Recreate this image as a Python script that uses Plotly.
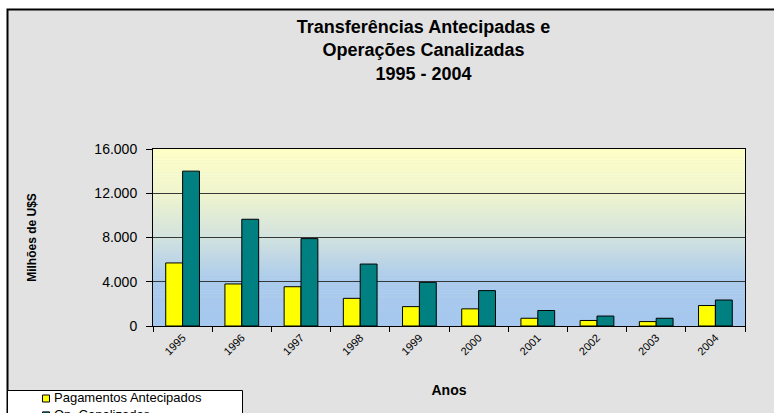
import plotly.graph_objects as go

# ---- data ----
anos = ["1995", "1996", "1997", "1998", "1999", "2000", "2001", "2002", "2003", "2004"]
pagamentos_antecipados = [5700, 3800, 3550, 2500, 1750, 1550, 700, 500, 400, 1850]
op_canalizadas = [14000, 9650, 7900, 5600, 3950, 3200, 1400, 900, 700, 2350]
series_names = ["Pagamentos Antecipados", "Op. Canalizadas"]
series_colors = ["#ffff00", "#008080"]
y_ticks = [0, 4000, 8000, 12000, 16000]

W, H = 774, 413
L, R, T, B = 153, 29, 149, 87
PW, PH = W - L - R, H - T - B


def px_x(p):
    return (p - L) / PW


def px_y(p):
    return (H - B - p) / PH


fig = go.Figure()
for name, vals, c in zip(series_names, [pagamentos_antecipados, op_canalizadas], series_colors):
    fig.add_trace(go.Bar(x=anos, y=vals, name=name,
                         marker=dict(color=c, line=dict(color="#000000", width=1))))

shapes = []
annotations = []
# outer chart area (grey with black border)
shapes.append(dict(type="rect", xref="paper", yref="paper", layer="below",
                   x0=px_x(7.5), x1=px_x(790), y0=px_y(430), y1=px_y(9.5),
                   fillcolor="#e2e2e2", line=dict(color="#000000", width=2)))

# gradient plot background
stops = [(0.0, (255, 255, 198)), (0.25, (240, 245, 206)), (0.5, (210, 226, 222)),
         (0.75, (170, 202, 236)), (1.0, (166, 200, 238))]


def col(f):
    for i in range(len(stops) - 1):
        a, ca = stops[i]
        b, cb = stops[i + 1]
        if a <= f <= b:
            t = (f - a) / (b - a)
            return "rgb(%d,%d,%d)" % tuple(round(ca[k] + (cb[k] - ca[k]) * t) for k in range(3))
    return "rgb(%d,%d,%d)" % stops[-1][1]


N = 60
for i in range(N):
    f = (i + 0.5) / N
    shapes.append(dict(type="rect", xref="x domain", yref="y domain", layer="below",
                       x0=0, x1=1, y0=1 - (i + 1) / N, y1=1 - i / N + 0.002,
                       fillcolor=col(f), line=dict(width=0)))

# legend box (drawn as shapes + text, like the original)
LEG_FONT = 13
line_h = LEG_FONT * 1.3
first_y = 398.5
shapes.append(dict(type="rect", xref="paper", yref="paper", layer="above",
                   x0=px_x(7.5), x1=px_x(242.5), y0=px_y(440), y1=px_y(390.5),
                   fillcolor="#ffffff", line=dict(color="#000000", width=1)))
for k, c in enumerate(series_colors):
    yc = first_y + line_h * k
    shapes.append(dict(type="rect", xref="paper", yref="paper", layer="above",
                       x0=px_x(42.5), x1=px_x(49.5), y0=px_y(yc + 3.5), y1=px_y(yc - 3.5),
                       fillcolor=c, line=dict(color="#000000", width=1)))
annotations.append(dict(text="<br>".join(series_names), xref="paper", yref="paper",
                        x=px_x(53), y=px_y(first_y - line_h / 2 - 1),
                        xanchor="left", yanchor="top", align="left", showarrow=False,
                        borderpad=0, font=dict(size=LEG_FONT, color="#000000")))

fig.update_layout(
    width=W, height=H, autosize=False,
    margin=dict(l=L, r=R, t=T, b=B, autoexpand=False),
    paper_bgcolor="#ffffff",
    plot_bgcolor="rgba(0,0,0,0)",
    separators=",.",
    font=dict(family="Liberation Sans, Arial, sans-serif", color="#000000"),
    barmode="group", bargap=0.43, bargroupgap=0,
    title=dict(text="Transferências Antecipadas e<br>Operações Canalizadas<br>1995 - 2004",
               x=423.5 / W, xanchor="center", y=1 - 33 / H, yanchor="top", yref="container",
               automargin=False,
               font=dict(size=18, family="Liberation Sans, Arial, sans-serif", weight="bold")),
    shapes=shapes,
    annotations=annotations,
    showlegend=False,
)

fig.update_xaxes(
    type="category", automargin=False, showline=True, linecolor="#000000", linewidth=1, mirror=True,
    ticks="outside", ticklen=5, tickcolor="#000000", tickson="boundaries",
    tickangle=-45, tickfont=dict(size=11), showgrid=False,
    title=dict(text="<b>Anos</b>", font=dict(size=14), standoff=28),
)
fig.update_yaxes(
    range=[0, 16000], tickvals=y_ticks, tickformat=",d", automargin=False,
    showline=True, linecolor="#000000", linewidth=1, mirror=True,
    ticks="outside", ticklen=6, tickcolor="#000000", tickfont=dict(size=14),
    ticklabelstandoff=6,
    showgrid=True, gridcolor="#383838", gridwidth=1, zeroline=False,
    title=dict(text="<b>Milhões de U$S</b>", font=dict(size=12), standoff=55),
)

fig.write_html("out.html", config={"displayModeBar": False},
               post_script="document.body.style.margin='0px';")
